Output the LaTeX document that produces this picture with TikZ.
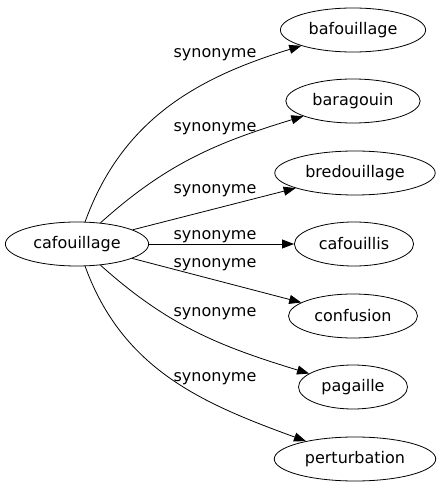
\documentclass[tikz,border=0pt]{standalone}
\usepackage{fontspec}
\setmainfont{DejaVu Sans}
\usetikzlibrary{shapes.geometric,arrows.meta}
\begin{document}
\begin{tikzpicture}[x=1pt,y=1pt,line width=0.8pt,
    word/.style={ellipse,draw,inner xsep=7pt,inner ysep=2pt,minimum height=44pt,font=\fontsize{16}{19}\selectfont},
    rel/.style={-{Triangle[length=12pt,width=9pt]}},
    lbl/.style={font=\fontsize{16}{19}\selectfont,inner sep=1pt}]
    \useasboundingbox (0,0) rectangle (437,491);
    \node[word] (cafouillage) at (77,247) {cafouillage};
    \node[word] (bafouillage) at (353,461) {bafouillage};
    \node[word] (baragouin) at (353,390) {baragouin};
    \node[word] (bredouillage) at (355,318) {bredouillage};
    \node[word] (cafouillis) at (354,247) {cafouillis};
    \node[word] (confusion) at (353,175) {confusion};
    \node[word] (pagaille) at (353,104) {pagaille};
    \node[word] (perturbation) at (355,32) {perturbation};
    % curved edges upwards
    \draw[rel] (cafouillage) to[out=70,in=197] (bafouillage) node[lbl] at (215,436) {synonyme};
    \draw[rel] (cafouillage) to[out=42,in=197] (baragouin) node[lbl] at (215,362) {synonyme};
    % straight edges
    \draw[rel] (cafouillage) -- (bredouillage) node[lbl] at (215,300) {synonyme};
    \draw[rel] (cafouillage) -- (cafouillis) node[lbl] at (215,254) {synonyme};
    \draw[rel] (cafouillage) -- (confusion) node[lbl] at (215,226) {synonyme};
    % curved edges downwards
    \draw[rel] (cafouillage) to[out=-42,in=163] (pagaille) node[lbl] at (215,177) {synonyme};
    \draw[rel] (cafouillage) to[out=-70,in=160] (perturbation) node[lbl] at (215,112) {synonyme};
\end{tikzpicture}
\end{document}
